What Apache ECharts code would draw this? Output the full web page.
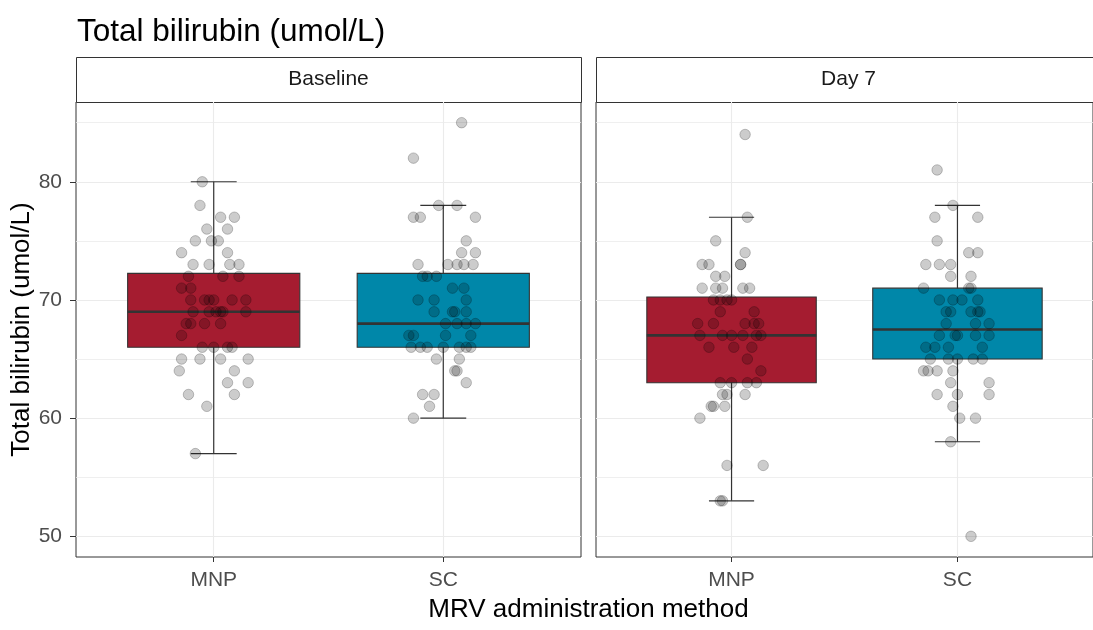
<!DOCTYPE html>
<html>
<head>
<meta charset="utf-8">
<title>Total bilirubin (umol/L)</title>
<script src="https://cdn.jsdelivr.net/npm/echarts@6/dist/echarts.min.js"></script>
<style>
  html, body { margin: 0; padding: 0; background: #ffffff; }
  #chart { width: 1093px; height: 630px; }
</style>
</head>
<body>
<div id="chart"></div>
<script>
// ---- data ----
const panels = ['Baseline', 'Day 7'];
const methods = ['MNP', 'SC'];
const yTicks = [50, 60, 70, 80];
const yMinorTicks = [55, 65, 75, 85];

// five-number summaries: [lower whisker, Q1, median, Q3, upper whisker]
const boxBaselineMNP = [57, 66, 69, 72.25, 80];
const boxBaselineSC = [60, 66, 68, 72.25, 78];
const boxDay7MNP = [53, 63, 67, 70.25, 77];
const boxDay7SC = [58, 65, 67.5, 71, 78];

// individual measurements (umol/L) with their horizontal jitter (category units)
const baselineMNP = [80, 78, 77, 77, 76, 76, 75, 75, 75, 74, 74, 73, 73, 73, 73, 72, 72, 72, 71, 71,
  70, 70, 70, 70, 70, 70, 69, 69, 69, 69, 69, 69, 68, 68, 68, 68, 67, 66, 66, 66, 66,
  65, 65, 65, 65, 64, 64, 63, 63, 62, 62, 61, 57];
const baselineMNPJitter = [-0.05, -0.06, 0.03, 0.09, -0.03, 0.06, -0.08, -0.01, 0.02, -0.14, 0.06,
  -0.09, -0.02, 0.07, 0.11, -0.11, 0.04, 0.11, -0.14, -0.10,
  -0.10, -0.04, -0.02, 0.00, 0.08, 0.14, -0.09, -0.02, 0.01, 0.03, 0.04, 0.14,
  -0.12, -0.10, -0.04, 0.03, -0.14, -0.05, 0.00, 0.06, 0.08,
  -0.14, -0.06, 0.03, 0.15, -0.15, 0.09, 0.06, 0.15, -0.11, 0.09, -0.03, -0.08];

const baselineSC = [85, 82, 78, 78, 77, 77, 77, 75, 74, 74, 73, 73, 73, 73, 73, 72, 72, 72, 71, 71,
  70, 70, 70, 69, 69, 69, 69, 68, 68, 68, 68, 67, 67, 67, 67, 66, 66, 66, 66, 66, 66, 66,
  65, 65, 64, 64, 63, 62, 62, 61, 60];
const baselineSCJitter = [0.08, -0.13, -0.02, 0.06, -0.13, -0.10, 0.14, 0.10, 0.08, 0.14,
  -0.11, 0.02, 0.06, 0.09, 0.13, -0.09, -0.07, -0.03, 0.04, 0.09,
  -0.11, -0.04, 0.10, -0.04, 0.04, 0.05, 0.10, 0.01, 0.06, 0.10, 0.14,
  -0.15, -0.13, 0.01, 0.12, -0.14, -0.10, -0.07, 0.00, 0.07, 0.10, 0.12,
  -0.03, 0.07, 0.05, 0.06, 0.10, -0.09, -0.04, -0.06, -0.13];

const day7MNP = [84, 77, 75, 74, 73, 73, 73, 73, 72, 72, 71, 71, 71, 71, 71, 70, 70, 70, 70, 69, 69,
  68, 68, 68, 68, 68, 67, 67, 67, 67, 67, 67, 66, 66, 66, 65, 64, 63, 63, 63, 63,
  62, 62, 62, 61, 61, 61, 60, 56, 56, 53, 53];
const day7MNPJitter = [0.06, 0.07, -0.07, 0.06, -0.13, -0.10, 0.04, 0.04, -0.07, -0.03,
  -0.13, -0.07, -0.04, 0.05, 0.08, -0.08, -0.05, -0.02, 0.00, -0.05, 0.10,
  -0.15, -0.08, 0.06, 0.10, 0.12, -0.14, -0.04, 0.00, 0.05, 0.11, 0.13,
  -0.10, 0.01, 0.09, 0.07, 0.13, -0.05, 0.00, 0.07, 0.11,
  -0.04, -0.02, 0.06, -0.09, -0.08, -0.03, -0.14, -0.02, 0.14, -0.05, -0.04];

const day7SC = [81, 78, 77, 77, 75, 74, 74, 73, 73, 73, 72, 72, 71, 71, 71, 70, 70, 70, 70,
  69, 69, 69, 69, 69, 68, 68, 68, 67, 67, 67, 67, 67, 66, 66, 66, 66,
  65, 65, 65, 65, 65, 64, 64, 64, 64, 63, 63, 62, 62, 62, 61, 60, 60, 58, 50];
const day7SCJitter = [-0.09, -0.02, -0.10, 0.09, -0.09, 0.05, 0.09, -0.14, -0.08, -0.03,
  -0.03, 0.06, -0.15, 0.05, 0.06, -0.08, -0.02, 0.02, 0.09,
  -0.05, -0.03, 0.06, 0.09, 0.10, -0.05, 0.08, 0.14, -0.08, -0.01, 0.00, 0.08, 0.14,
  -0.14, -0.10, -0.04, 0.11, -0.12, -0.04, 0.00, 0.07, 0.11,
  -0.15, -0.13, -0.09, -0.02, -0.03, 0.14, -0.09, 0.00, 0.14, -0.02, 0.01, 0.08, -0.03, 0.06];

// ---- styling ----
const FONT = 'Liberation Sans';
const methodColors = ['#A51C30', '#0087A9'];
const INK = '#333333';
const GRID_COLOR = '#ebebeb';

// panel geometry (pixels)
const panelTop = 102, panelBottom = 73, panelWidth = 505;
const panelLefts = [76, 596];
const stripHeight = 45;

const chart = echarts.init(document.getElementById('chart'), null, { renderer: 'canvas' });

function boxItems(boxes) {
  return boxes.map((b, i) => ({
    value: [i + 1].concat(b),
    itemStyle: { color: methodColors[i] }
  }));
}

function pointItems(values, jitter, catIndex) {
  return values.map((v, i) => [catIndex + 1 + jitter[i], v]);
}

// box, median bar and capped whiskers for one group
function renderBox(params, api) {
  const x = api.value(0);
  const color = api.visual('color');
  const pLo = api.coord([x, api.value(1)]);
  const pQ1 = api.coord([x, api.value(2)]);
  const pMed = api.coord([x, api.value(3)]);
  const pQ3 = api.coord([x, api.value(4)]);
  const pHi = api.coord([x, api.value(5)]);
  const halfBox = api.size([0.375, 0])[0];
  const halfCap = api.size([0.1, 0])[0];
  const lineStyle = { stroke: INK, lineWidth: 1.2, fill: null };
  return {
    type: 'group',
    children: [
      { type: 'line', shape: { x1: pLo[0], y1: pLo[1], x2: pHi[0], y2: pHi[1] }, style: lineStyle },
      { type: 'line', shape: { x1: pLo[0] - halfCap, y1: pLo[1], x2: pLo[0] + halfCap, y2: pLo[1] }, style: lineStyle },
      { type: 'line', shape: { x1: pHi[0] - halfCap, y1: pHi[1], x2: pHi[0] + halfCap, y2: pHi[1] }, style: lineStyle },
      { type: 'rect', shape: { x: pQ3[0] - halfBox, y: pQ3[1], width: halfBox * 2, height: pQ1[1] - pQ3[1] },
        style: { fill: color, stroke: INK, lineWidth: 1.1 } },
      { type: 'line', shape: { x1: pMed[0] - halfBox, y1: pMed[1], x2: pMed[0] + halfBox, y2: pMed[1] },
        style: { stroke: INK, lineWidth: 2.6 } }
    ]
  };
}

const grids = panelLefts.map(left => ({
  left: left, top: panelTop, width: panelWidth, bottom: panelBottom,
  show: true, borderColor: INK, borderWidth: 1, backgroundColor: '#ffffff', containLabel: false
}));

const xAxes = panelLefts.map((_, g) => ({
  type: 'value', gridIndex: g, min: 0.4, max: 2.6,
  axisLine: { show: false },
  axisTick: { show: true, length: 5, lineStyle: { color: INK, width: 1 }, customValues: [1, 2] },
  axisLabel: {
    customValues: [1, 2], margin: 13,
    formatter: v => methods[Math.round(v) - 1] || '',
    color: '#4d4d4d', fontFamily: FONT, fontSize: 21
  },
  splitLine: { show: true, lineStyle: { color: GRID_COLOR, width: 1.1 } }
}));

const yAxes = [];
panelLefts.forEach((_, g) => {
  yAxes.push({
    type: 'value', gridIndex: g, min: 48.25, max: 86.75,
    name: g === 0 ? 'Total bilirubin (umol/L)' : '',
    nameLocation: 'middle', nameRotate: 90, nameGap: 41,
    nameTextStyle: { color: '#000000', fontFamily: FONT, fontSize: 26 },
    axisLine: { show: false },
    axisTick: { show: g === 0, length: 6, lineStyle: { color: INK, width: 1 }, customValues: yTicks },
    axisLabel: { show: g === 0, customValues: yTicks, margin: 14, color: '#4d4d4d', fontFamily: FONT, fontSize: 21 },
    splitLine: { show: true, lineStyle: { color: GRID_COLOR, width: 1.1 } }
  });
  // minor grid lines
  yAxes.push({
    type: 'value', gridIndex: g, min: 48.25, max: 86.75, position: 'left',
    axisLine: { show: false },
    axisTick: { show: false, customValues: yMinorTicks },
    axisLabel: { show: false, customValues: yMinorTicks },
    splitLine: { show: true, lineStyle: { color: GRID_COLOR, width: 0.8 } }
  });
});

const series = [];
const boxSets = [[boxBaselineMNP, boxBaselineSC], [boxDay7MNP, boxDay7SC]];
const pointSets = [
  [[baselineMNP, baselineMNPJitter], [baselineSC, baselineSCJitter]],
  [[day7MNP, day7MNPJitter], [day7SC, day7SCJitter]]
];
panels.forEach((p, g) => {
  series.push({
    type: 'custom', name: p + ' boxes', xAxisIndex: g, yAxisIndex: g * 2,
    renderItem: renderBox, encode: { x: 0, y: [1, 2, 3, 4, 5] },
    data: boxItems(boxSets[g]), z: 2, silent: true
  });
  pointSets[g].forEach((ps, c) => {
    series.push({
      type: 'scatter', name: p + ' ' + methods[c], xAxisIndex: g, yAxisIndex: g * 2,
      data: pointItems(ps[0], ps[1], c), symbol: 'circle', symbolSize: 10.5,
      itemStyle: { color: 'rgba(0,0,0,0.2)', borderColor: 'rgba(0,0,0,0.22)', borderWidth: 1, opacity: 1 },
      z: 3, silent: true
    });
  });
});

// facet strips and shared x-axis title
const graphics = [];
panelLefts.forEach((left, g) => {
  graphics.push({
    type: 'rect', left: left, top: panelTop - stripHeight, silent: true,
    shape: { x: 0, y: 0, width: panelWidth, height: stripHeight },
    style: { fill: '#ffffff', stroke: INK, lineWidth: 1 }
  });
  graphics.push({
    type: 'text', x: left + panelWidth / 2, y: panelTop - stripHeight / 2, silent: true,
    style: { text: panels[g], fill: '#1a1a1a', font: '21px "' + FONT + '"', align: 'center', verticalAlign: 'middle' }
  });
});
graphics.push({
  type: 'text', x: (panelLefts[0] + panelLefts[1] + panelWidth) / 2, y: 610, silent: true,
  style: { text: 'MRV administration method', fill: '#000000', font: '26px "' + FONT + '"', align: 'center', verticalAlign: 'middle' }
});

chart.setOption({
  animation: false,
  backgroundColor: '#ffffff',
  title: {
    text: 'Total bilirubin (umol/L)', left: 72, top: 11,
    textStyle: { color: '#000000', fontFamily: FONT, fontSize: 31.5, fontWeight: 'normal' }
  },
  grid: grids,
  xAxis: xAxes,
  yAxis: yAxes,
  series: series,
  graphic: graphics
});
</script>
</body>
</html>
